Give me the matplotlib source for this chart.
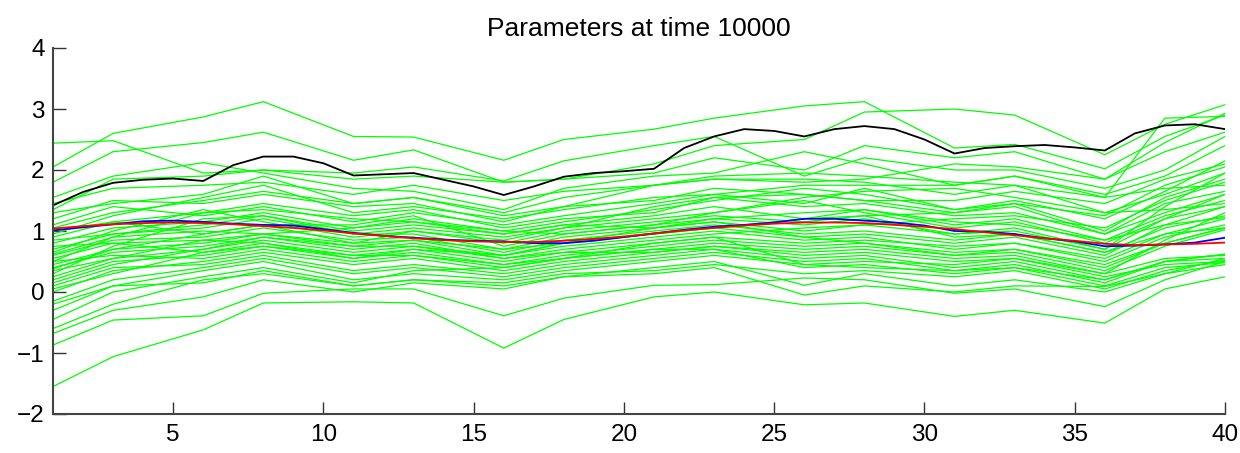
import matplotlib
matplotlib.use("Agg")
import matplotlib.pyplot as plt
import numpy as np

plt.rcParams['font.family'] = ['Liberation Sans', 'DejaVu Sans']

# x positions where the green ensemble lines are sampled (read from kinks)
knots = [1, 3, 6, 8, 11, 13, 16, 18, 21, 23, 26, 28, 31, 33, 36, 38, 40]

# green ensemble members (values at knots)
g01 = [2.05, 2.60, 2.87, 3.12, 2.55, 2.54, 2.16, 2.50, 2.67, 2.85, 3.05, 3.12, 2.36, 2.42, 2.02, 2.55, 2.90]
g02 = [2.44, 2.48, 1.95, 2.00, 1.85, 1.90, 1.80, 1.85, 1.95, 2.20, 2.00, 2.40, 2.20, 2.30, 1.85, 2.30, 2.62]
g03 = [1.80, 2.30, 2.45, 2.62, 2.16, 2.33, 1.80, 1.85, 2.10, 2.40, 2.50, 2.95, 3.00, 2.90, 2.25, 2.75, 3.07]
g04 = [1.35, 1.85, 1.90, 2.00, 1.95, 2.05, 1.82, 2.15, 2.40, 2.55, 1.90, 2.20, 2.00, 2.00, 1.70, 2.00, 2.55]
g05 = [1.55, 1.90, 2.12, 1.95, 1.70, 1.65, 1.35, 1.70, 1.90, 1.95, 2.30, 2.10, 1.75, 1.90, 1.60, 1.90, 2.40]
g06 = [1.30, 1.45, 1.60, 1.90, 1.45, 1.55, 1.30, 1.55, 1.75, 1.85, 1.80, 1.85, 2.10, 2.05, 1.85, 2.45, 2.93]
g07 = [1.20, 1.50, 1.45, 1.60, 1.40, 1.45, 1.15, 1.40, 1.75, 1.85, 1.85, 1.80, 1.60, 1.75, 1.30, 1.60, 1.95]
g08 = [0.95, 1.25, 1.55, 1.75, 1.30, 1.40, 1.20, 1.35, 1.55, 1.60, 1.45, 1.70, 1.35, 1.45, 1.00, 1.55, 1.85]
g09 = [1.10, 1.40, 1.25, 1.40, 1.15, 1.30, 1.10, 1.25, 1.45, 1.60, 1.75, 1.75, 1.75, 1.90, 1.55, 1.70, 1.75]
g10 = [0.50, 0.90, 1.30, 1.45, 1.25, 1.35, 1.05, 1.20, 1.30, 1.55, 1.40, 1.45, 1.25, 1.30, 0.95, 1.45, 1.65]
g11 = [0.80, 1.05, 1.15, 1.30, 1.05, 1.20, 1.00, 1.15, 1.35, 1.50, 1.70, 1.60, 1.35, 1.50, 1.20, 1.65, 2.15]
g12 = [0.30, 0.75, 1.20, 1.25, 1.00, 1.10, 0.95, 1.10, 1.25, 1.40, 1.20, 1.35, 1.10, 1.20, 0.85, 1.25, 1.50]
g13 = [0.70, 0.95, 1.05, 1.20, 0.95, 1.05, 0.90, 1.05, 1.20, 1.30, 1.50, 1.30, 1.05, 1.15, 0.80, 1.20, 1.40]
g14 = [0.65, 1.00, 1.35, 1.15, 0.90, 1.00, 0.80, 1.00, 1.15, 1.25, 1.15, 1.25, 1.30, 1.45, 1.25, 1.75, 2.05]
g15 = [0.90, 1.15, 0.95, 1.10, 1.10, 1.25, 0.75, 0.95, 1.10, 1.20, 1.10, 1.20, 0.95, 1.05, 0.70, 1.40, 1.95]
g16 = [1.00, 1.15, 1.30, 1.35, 1.20, 1.15, 1.00, 0.95, 1.10, 1.30, 1.55, 1.65, 1.70, 1.55, 1.30, 1.35, 1.45]
g17 = [0.55, 0.80, 0.85, 0.95, 0.80, 1.00, 0.85, 1.05, 1.40, 1.55, 1.60, 1.50, 1.30, 1.40, 0.95, 1.30, 1.60]
g18 = [0.85, 0.95, 1.10, 1.25, 0.95, 0.95, 0.70, 0.90, 1.05, 1.15, 1.00, 1.10, 1.20, 1.25, 1.05, 1.50, 1.80]
g19 = [0.60, 0.85, 0.90, 1.05, 0.85, 0.90, 0.65, 0.85, 1.00, 1.10, 0.95, 1.00, 0.85, 0.95, 0.65, 1.05, 1.25]
g20 = [0.45, 0.70, 0.80, 0.95, 0.75, 0.85, 0.70, 0.80, 0.95, 1.05, 0.90, 0.95, 0.80, 0.90, 0.60, 1.10, 1.40]
g21 = [0.40, 0.65, 0.75, 0.90, 0.70, 0.80, 0.55, 0.70, 0.85, 0.95, 1.05, 1.10, 0.95, 1.00, 0.70, 1.20, 1.60]
g22 = [0.35, 0.55, 0.70, 0.85, 0.65, 0.75, 0.60, 0.75, 0.90, 1.00, 0.85, 0.90, 0.70, 0.80, 0.50, 0.90, 1.10]
g23 = [0.75, 0.80, 0.65, 0.80, 0.60, 0.70, 0.50, 0.65, 0.80, 0.90, 0.80, 0.85, 0.75, 0.80, 0.55, 0.95, 1.20]
g24 = [0.25, 0.55, 0.85, 0.80, 0.55, 0.65, 0.45, 0.60, 0.75, 0.85, 0.75, 0.80, 0.65, 0.70, 0.40, 0.80, 1.05]
g25 = [0.20, 0.50, 0.60, 0.75, 0.55, 0.70, 0.60, 0.80, 1.05, 1.15, 0.90, 0.80, 0.60, 0.70, 0.45, 0.80, 1.05]
g26 = [0.50, 0.60, 0.55, 0.70, 0.50, 0.60, 0.40, 0.55, 0.70, 0.80, 0.70, 0.75, 0.60, 0.65, 0.35, 0.75, 1.02]
g27 = [0.15, 0.45, 0.70, 0.90, 0.75, 0.75, 0.55, 0.65, 0.65, 0.75, 0.65, 0.70, 0.55, 0.60, 0.30, 0.55, 0.60]
g28 = [0.00, 0.35, 0.50, 0.65, 0.45, 0.55, 0.35, 0.50, 0.65, 0.75, 0.60, 0.65, 0.50, 0.55, 0.25, 0.45, 0.50]
g29 = [0.10, 0.40, 0.45, 0.60, 0.35, 0.45, 0.30, 0.45, 0.60, 0.70, 0.55, 0.60, 0.40, 0.50, 0.20, 0.50, 0.62]
g30 = [-0.15, 0.20, 0.40, 0.55, 0.30, 0.40, 0.25, 0.40, 0.55, 0.65, 0.50, 0.55, 0.35, 0.45, 0.15, 0.50, 0.55]
g31 = [-0.30, 0.10, 0.35, 0.50, 0.20, 0.30, 0.20, 0.35, 0.50, 0.60, 0.45, 0.50, 0.45, 0.55, 0.30, 0.85, 1.30]
g32 = [-0.45, 0.00, 0.25, 0.40, 0.15, 0.35, 0.40, 0.55, 0.70, 0.70, 0.40, 0.45, 0.30, 0.40, 0.10, 0.40, 0.48]
g33 = [-0.60, -0.20, 0.20, 0.30, 0.10, 0.20, 0.15, 0.30, 0.35, 0.45, 0.30, 0.35, 0.25, 0.35, 0.05, 0.35, 0.52]
g34 = [-0.68, -0.30, -0.08, 0.20, 0.00, 0.15, 0.05, 0.25, 0.40, 0.50, 0.11, 0.30, 0.10, 0.20, 0.00, 0.30, 0.55]
g35 = [-0.87, -0.46, -0.39, -0.02, 0.05, 0.05, -0.39, -0.10, 0.11, 0.12, 0.23, 0.20, -0.02, 0.05, -0.24, 0.20, 0.50]
g36 = [-1.55, -1.06, -0.62, -0.18, -0.16, -0.18, -0.92, -0.45, -0.08, 0.00, -0.21, -0.18, -0.40, -0.30, -0.51, 0.05, 0.25]
g37 = [-0.20, 0.10, 0.15, 0.35, 0.10, 0.20, 0.10, 0.25, 0.30, 0.40, -0.05, 0.10, 0.00, 0.10, 0.09, 0.30, 0.45]
g38 = [1.45, 1.70, 1.75, 1.80, 1.60, 1.75, 1.50, 1.65, 1.75, 1.90, 1.95, 1.90, 1.80, 1.75, 1.55, 2.85, 2.88]
g39 = [1.05, 1.30, 1.50, 1.65, 1.45, 1.55, 1.25, 1.40, 1.50, 1.70, 1.60, 1.50, 1.50, 1.65, 1.45, 1.85, 2.10]
g40 = [0.62, 0.90, 1.00, 0.95, 1.05, 1.15, 0.95, 1.10, 1.05, 1.20, 1.30, 1.35, 1.15, 1.10, 0.85, 1.10, 1.22]
g41 = [0.38, 0.70, 0.95, 1.10, 0.80, 0.85, 0.60, 0.80, 0.95, 1.05, 1.20, 1.25, 0.90, 0.95, 0.65, 0.95, 1.05]
g42 = [0.05, 0.30, 0.65, 0.75, 0.60, 0.60, 0.45, 0.55, 0.80, 0.90, 0.45, 0.40, 0.35, 0.40, 0.20, 0.50, 0.62]

green_lines = [g01, g02, g03, g04, g05, g06, g07, g08, g09, g10, g11, g12, g13, g14,
               g15, g16, g17, g18, g19, g20, g21, g22, g23, g24, g25, g26, g27, g28,
               g29, g30, g31, g32, g33, g34, g35, g36, g37, g38, g39, g40, g41, g42]

# full-resolution series, x = 1..40
x_full = list(range(1, 41))
black_vals = [1.42, 1.64, 1.79, 1.84, 1.86, 1.82, 2.08, 2.22, 2.22, 2.11,
              1.91, 1.93, 1.95, 1.84, 1.73, 1.59, 1.73, 1.89, 1.95, 1.98,
              2.02, 2.36, 2.55, 2.67, 2.64, 2.55, 2.67, 2.72, 2.67, 2.50,
              2.27, 2.36, 2.39, 2.41, 2.37, 2.32, 2.60, 2.73, 2.75, 2.67]
blue_vals = [1.01, 1.06, 1.11, 1.16, 1.17, 1.15, 1.12, 1.10, 1.09, 1.03,
             0.97, 0.92, 0.89, 0.86, 0.84, 0.83, 0.80, 0.80, 0.84, 0.90,
             0.96, 1.02, 1.07, 1.10, 1.14, 1.20, 1.20, 1.17, 1.14, 1.09,
             1.00, 0.99, 0.95, 0.88, 0.83, 0.75, 0.76, 0.78, 0.81, 0.89]
red_vals = [1.04, 1.08, 1.11, 1.13, 1.14, 1.13, 1.11, 1.08, 1.05, 1.01,
            0.96, 0.92, 0.88, 0.85, 0.83, 0.82, 0.82, 0.84, 0.87, 0.91,
            0.96, 1.01, 1.05, 1.09, 1.12, 1.14, 1.14, 1.13, 1.10, 1.07,
            1.03, 0.98, 0.93, 0.88, 0.84, 0.79, 0.77, 0.78, 0.79, 0.81]

title_text = "Parameters at time 10000"
xticks = [5, 10, 15, 20, 25, 30, 35, 40]
yticks = [-2, -1, 0, 1, 2, 3, 4]

fig = plt.figure(figsize=(12.4, 4.53), dpi=100)
ax = fig.add_axes([53 / 1240, 1 - 414 / 453, (1225 - 53) / 1240, (414 - 48) / 453])

for g in green_lines:
    ax.plot(knots, g, color=(0, 1, 0), lw=0.9, solid_joinstyle='miter')
ax.plot(x_full, black_vals, color='black', lw=1.3)
ax.plot(x_full, blue_vals, color='blue', lw=1.3)
ax.plot(x_full, red_vals, color='red', lw=1.3)

ax.set_xlim(1, 40)
ax.set_ylim(-2, 4)
ax.set_xticks(xticks)
ax.set_yticks(yticks)
ax.set_yticklabels(['\u22122', '\u22121', '0', '1', '2', '3', '4'])
ax.tick_params(direction='in', length=9, width=1.0, labelsize=17.5, colors='#333333',
               labelcolor='black')
ax.tick_params(axis='x', pad=7)
ax.tick_params(axis='y', pad=6)
for s in ['top', 'right']:
    ax.spines[s].set_visible(False)
for s in ['left', 'bottom']:
    ax.spines[s].set_linewidth(1.5)
    ax.spines[s].set_color('#444444')
ax.set_title(title_text, fontsize=19, pad=9)

fig.savefig('out.png', dpi=100)
